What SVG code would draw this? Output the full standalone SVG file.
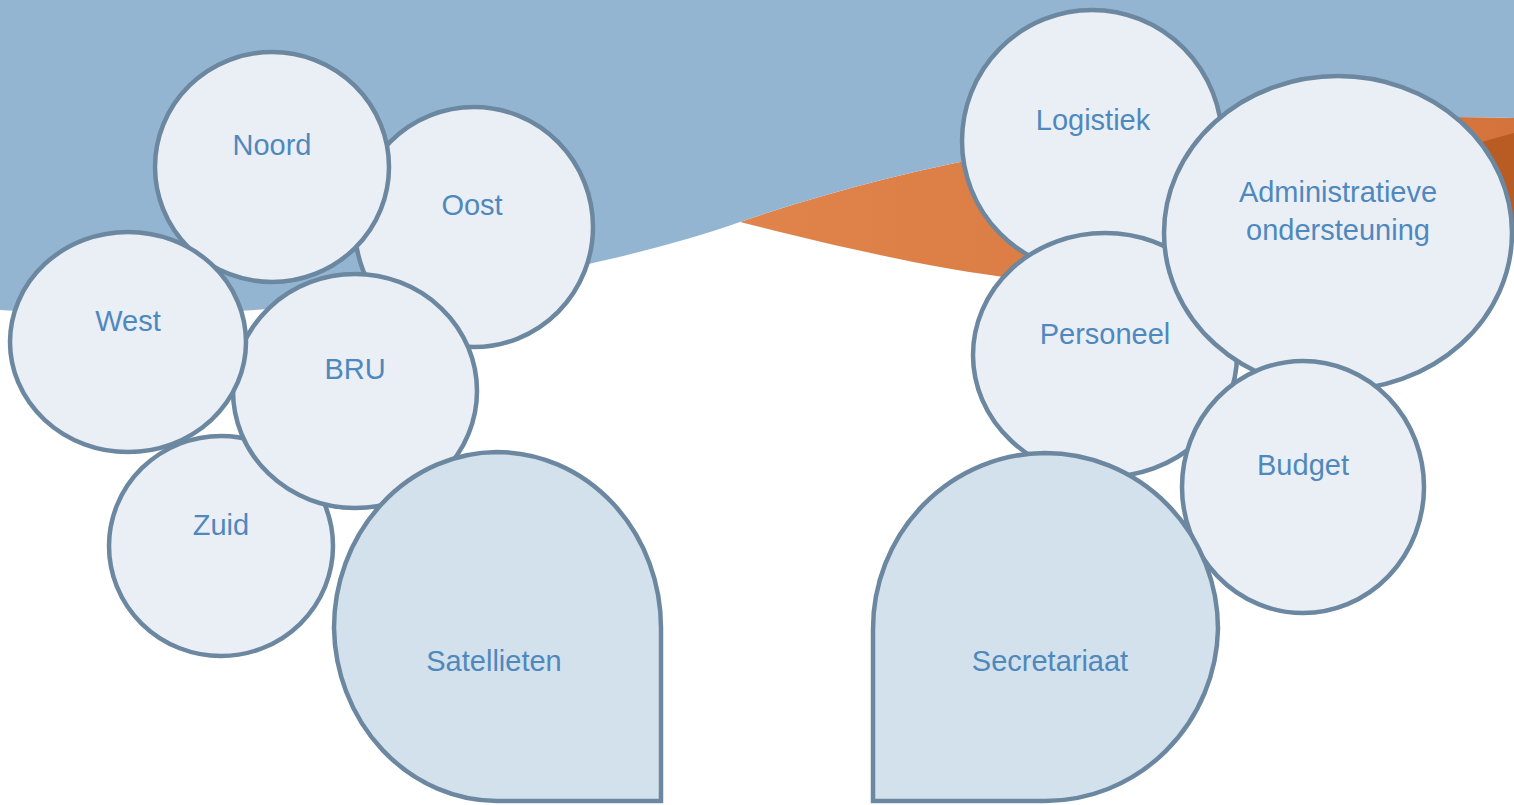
<svg xmlns="http://www.w3.org/2000/svg" width="1514" height="805" viewBox="0 0 1514 805">
<style>
.c{fill:#EAEFF6;stroke:#6C87A0;stroke-width:4.5}
.d{fill:#D3E1EC;stroke:#6C87A0;stroke-width:4.5}
.t{font-family:"Liberation Sans",Arial,sans-serif;font-size:29px;fill:#4F88BD;text-anchor:middle}
</style>
<defs>
<linearGradient id="og" x1="0" y1="0" x2="1" y2="0">
<stop offset="0" stop-color="#E0844B"/>
<stop offset="1" stop-color="#D4733B"/>
</linearGradient>
</defs>
<rect width="1514" height="805" fill="#FFFFFF"/>
<g id="background">
<path d="M740,222 C950,150 1200,110 1514,118 L1514,232 C1420,262 1250,300 1030,280 C950,272 850,250 740,222 Z" fill="url(#og)"/>
<path d="M1514,133 C1420,158 1300,200 1160,244 C1300,275 1420,258 1514,230 Z" fill="#B95C24"/>
<path d="M0,0 H1514 V118 C1200,110 950,150 740,222 C600,272 300,330 0,310 Z" fill="#94B5D2"/>
</g>
<g id="connectors"></g>
<g id="zuid"><ellipse class="c" cx="221" cy="546" rx="112" ry="110"/><text class="t" x="221" y="535">Zuid</text></g>
<g id="oost"><ellipse class="c" cx="474" cy="227" rx="119" ry="120"/><text class="t" x="472" y="215">Oost</text></g>
<g id="noord"><ellipse class="c" cx="272" cy="167" rx="117" ry="115"/><text class="t" x="272" y="155">Noord</text></g>
<g id="bru"><ellipse class="c" cx="355" cy="391" rx="122" ry="117"/><text class="t" x="355" y="379">BRU</text></g>
<g id="west"><ellipse class="c" cx="128" cy="342" rx="118" ry="110"/><text class="t" x="128" y="331">West</text></g>
<g id="satellieten"><path class="d" d="M497,452 A164,176 0 0 1 661,628 L661,801 L497,801 A164,176 0 0 1 334,628 A164,176 0 0 1 497,452 Z"/><text class="t" x="494" y="671">Satellieten</text></g>
<g id="logistiek"><ellipse class="c" cx="1092" cy="141" rx="130" ry="131"/><text class="t" x="1093" y="130">Logistiek</text></g>
<g id="personeel"><ellipse class="c" cx="1105" cy="355" rx="132" ry="122"/><text class="t" x="1105" y="344">Personeel</text></g>
<g id="administratieve"><ellipse class="c" cx="1338" cy="233" rx="174" ry="157"/><text class="t" x="1338" y="202">Administratieve</text><text class="t" x="1338" y="240">ondersteuning</text></g>
<g id="budget"><ellipse class="c" cx="1303" cy="487" rx="121" ry="126"/><text class="t" x="1303" y="475">Budget</text></g>
<g id="secretariaat"><path class="d" d="M1045,453 A173,176 0 0 1 1218,629 A173,176 0 0 1 1045,801 L873,801 L873,629 A173,176 0 0 1 1045,453 Z"/><text class="t" x="1050" y="671">Secretariaat</text></g>
</svg>
